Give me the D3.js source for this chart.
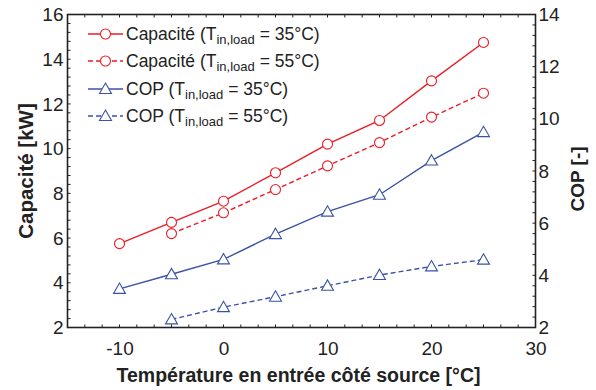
<!DOCTYPE html>
<html>
<head>
<meta charset="utf-8">
<script src="https://cdn.jsdelivr.net/npm/d3@7/dist/d3.min.js"></script>
<style>
  html, body { margin: 0; padding: 0; background: #fff; }
  svg { display: block; font-family: "Liberation Sans", Arial, Helvetica, sans-serif; }
</style>
</head>
<body>
<svg id="chart" width="596" height="390"></svg>
<script>
// Source-side inlet temperature (°C)
const temps35 = [-10, -5, 0, 5, 10, 15, 20, 25];
const temps55 = [-5, 0, 5, 10, 15, 20, 25];

// Heating capacity (kW)
const capacity35 = [5.75, 6.70, 7.65, 8.92, 10.2, 11.26, 13.03, 14.75];
const capacity55 = [6.2, 7.13, 8.17, 9.23, 10.27, 11.41, 12.48];

// Coefficient of performance (-)
const cop35 = [3.48, 4.04, 4.61, 5.58, 6.44, 7.09, 8.40, 9.49];
const cop55 = [2.31, 2.78, 3.18, 3.60, 4.01, 4.34, 4.60];

// Axis ticks
const xTicks = [-10, 0, 10, 20, 30];
const capTicks = [2, 4, 6, 8, 10, 12, 14, 16];
const copTicks = [2, 4, 6, 8, 10, 12, 14];

const legendLabels = [
  { main: "Capacité (T", sub: "in,load", rest: " = 35°C)" },
  { main: "Capacité (T", sub: "in,load", rest: " = 55°C)" },
  { main: "COP (T", sub: "in,load", rest: " = 35°C)" },
  { main: "COP (T", sub: "in,load", rest: " = 55°C)" }
];

const RED = "#ec1c24";
const BLUE = "#3a53a4";
const INK = "#222";

const svg = d3.select("#chart");
const frameL = 67.5, frameR = 535.5, frameT = 14.5, frameB = 327.5;

const x = d3.scaleLinear().domain([-15, 30]).range([frameL, frameR]);
const yCap = d3.scaleLinear().domain([2, 16]).range([frameB, frameT]);
const yCop = d3.scaleLinear().domain([2, 14]).range([frameB, frameT]);

const series = [
  { xs: temps35, ys: capacity35, scale: yCap, color: RED, dash: null, marker: "circle" },
  { xs: temps55, ys: capacity55, scale: yCap, color: RED, dash: "5,3", marker: "circle" },
  { xs: temps35, ys: cop35, scale: yCop, color: BLUE, dash: null, marker: "triangle" },
  { xs: temps55, ys: cop55, scale: yCop, color: BLUE, dash: "5,3", marker: "triangle" }
];

const triSym = d3.symbol().type(d3.symbolTriangle).size(62);

function drawMarker(g, kind, cx, cy, color) {
  if (kind === "circle") {
    g.append("circle").attr("cx", cx).attr("cy", cy).attr("r", 5)
      .attr("fill", "#fff").attr("stroke", color).attr("stroke-width", 1.1);
  } else {
    g.append("path").attr("d", triSym())
      .attr("transform", `translate(${cx},${cy + 1})`)
      .attr("fill", "#fff").attr("stroke", color).attr("stroke-width", 1.1);
  }
}

// Series lines and markers
const plot = svg.append("g");
series.forEach(s => {
  const pts = s.xs.map((t, i) => [x(t), s.scale(s.ys[i])]);
  plot.append("path")
    .attr("d", d3.line()(pts))
    .attr("fill", "none")
    .attr("stroke", s.color)
    .attr("stroke-width", 1.4)
    .attr("stroke-dasharray", s.dash);
  pts.forEach(p => drawMarker(plot, s.marker, p[0], p[1], s.color));
});

// Inward minor ticks on all four sides
const tickG = svg.append("g").attr("stroke", INK).attr("stroke-width", 1);
d3.range(-15, 30.001, 10 / 6).forEach(v => {
  const px = x(v);
  tickG.append("line").attr("x1", px).attr("x2", px).attr("y1", frameB).attr("y2", frameB - 3);
  tickG.append("line").attr("x1", px).attr("x2", px).attr("y1", frameT).attr("y2", frameT + 3);
});
d3.range(2, 16.001, 0.4).forEach(v => {
  const py = yCap(v);
  tickG.append("line").attr("x1", frameL).attr("x2", frameL + 3).attr("y1", py).attr("y2", py);
});
d3.range(2, 14.001, 0.4).forEach(v => {
  const py = yCop(v);
  tickG.append("line").attr("x1", frameR).attr("x2", frameR - 3).attr("y1", py).attr("y2", py);
});

// Axes with tick labels
const tickFont = 19;
const xAxis = svg.append("g").attr("transform", `translate(0,${frameB})`)
  .call(d3.axisBottom(x).tickValues(xTicks).tickSize(0).tickPadding(14).tickFormat(d => d < 0 ? "-" + Math.abs(d) : String(d)));
const yAxisL = svg.append("g").attr("transform", `translate(${frameL},0)`)
  .call(d3.axisLeft(yCap).tickValues(capTicks).tickSize(0).tickPadding(4));
const yAxisR = svg.append("g").attr("transform", `translate(${frameR},0)`)
  .call(d3.axisRight(yCop).tickValues(copTicks).tickSize(0).tickPadding(3));
[xAxis, yAxisL, yAxisR].forEach(a => {
  a.select(".domain").remove();
  a.selectAll("text").attr("font-size", tickFont).attr("fill", INK)
    .style("font-family", "'Liberation Sans', Arial, sans-serif");
});

// Frame
svg.append("rect")
  .attr("x", frameL).attr("y", frameT)
  .attr("width", frameR - frameL).attr("height", frameB - frameT)
  .attr("fill", "none").attr("stroke", INK).attr("stroke-width", 1.6);

// Axis titles
svg.append("text")
  .attr("x", (frameL + frameR) / 2 - 3).attr("y", 382)
  .attr("text-anchor", "middle").attr("font-size", 19.5).attr("font-weight", "bold").attr("fill", INK)
  .text("Température en entrée côté source [°C]");
svg.append("text")
  .attr("transform", `translate(33,${(frameT + frameB) / 2}) rotate(-90)`)
  .attr("text-anchor", "middle").attr("font-size", 20.5).attr("font-weight", "bold").attr("fill", INK)
  .text("Capacité [kW]");
svg.append("text")
  .attr("transform", `translate(584,${(frameT + frameB) / 2 + 8}) rotate(-90)`)
  .attr("text-anchor", "middle").attr("font-size", 19).attr("font-weight", "bold").attr("fill", INK)
  .text("COP [-]");

// Legend
const legend = svg.append("g");
const rowY = [34, 61, 89, 116];
series.forEach((s, i) => {
  const y0 = rowY[i];
  legend.append("line")
    .attr("x1", 88).attr("x2", 123).attr("y1", y0).attr("y2", y0)
    .attr("stroke", s.color).attr("stroke-width", 1.4)
    .attr("stroke-dasharray", s.dash);
  drawMarker(legend, s.marker, 105.5, y0, s.color);
  const t = legend.append("text")
    .attr("x", 126).attr("y", y0 + 6)
    .attr("font-size", 17.5).attr("fill", INK);
  t.append("tspan").text(legendLabels[i].main);
  t.append("tspan").attr("font-size", 13).attr("dy", 4).text(legendLabels[i].sub);
  t.append("tspan").attr("dy", -4).text(legendLabels[i].rest);
});
</script>
</body>
</html>
